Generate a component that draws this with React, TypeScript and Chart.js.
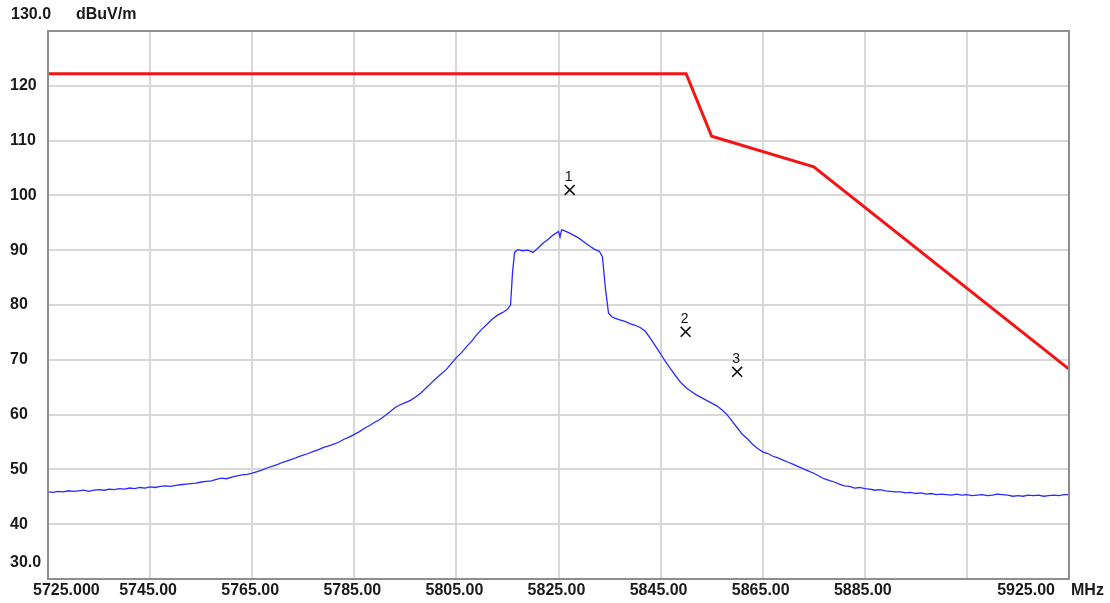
import React, { useEffect, useRef } from "react";
import { Chart, registerables } from "chart.js";

Chart.register(...registerables);

// Measured trace (MHz, dBuV/m)
const traceFreq = [
  5725, 5726, 5727, 5728, 5729, 5730, 5731, 5732, 5733, 5734, 5735, 5736, 5737, 5738, 5739, 5740,
  5741, 5742, 5743, 5744, 5745, 5746, 5747, 5748, 5749, 5750, 5751, 5752, 5753, 5754, 5755, 5756,
  5757, 5758, 5759, 5760, 5761, 5762, 5763, 5764, 5765, 5766, 5767, 5768, 5769, 5770, 5771, 5772,
  5773, 5774, 5775, 5776, 5777, 5778, 5779, 5780, 5781, 5782, 5783, 5784, 5785, 5786, 5787, 5788,
  5789, 5790, 5791, 5792, 5793, 5794, 5795, 5796, 5797, 5798, 5799, 5800, 5801, 5802, 5803, 5804,
  5805, 5806, 5807, 5808, 5809, 5810, 5811, 5812, 5813, 5814, 5815, 5815.6, 5816.0, 5816.4, 5817,
  5818, 5819, 5820, 5821, 5822, 5823, 5824, 5825, 5825.3, 5825.6, 5826, 5827, 5828, 5829, 5830,
  5831, 5832, 5833, 5833.6, 5834.2, 5834.8, 5835.5, 5836, 5837, 5838, 5839, 5840, 5841, 5842,
  5843, 5844, 5845, 5846, 5847, 5848, 5849, 5850, 5851, 5852, 5853, 5854, 5855, 5856, 5857, 5858,
  5859, 5860, 5861, 5862, 5863, 5864, 5865, 5866, 5867, 5868, 5869, 5870, 5871, 5872, 5873, 5874,
  5875, 5876, 5877, 5878, 5879, 5880, 5881, 5882, 5883, 5884, 5885, 5886, 5887, 5888, 5889, 5890,
  5891, 5892, 5893, 5894, 5895, 5896, 5897, 5898, 5899, 5900, 5901, 5902, 5903, 5904, 5905, 5906,
  5907, 5908, 5909, 5910, 5911, 5912, 5913, 5914, 5915, 5916, 5917, 5918, 5919, 5920, 5921, 5922,
  5923, 5924, 5925,
];
const traceLevel = [
  45.9, 45.8, 46.0, 45.9, 46.1, 46.0, 46.1, 46.2, 46.0, 46.2, 46.3, 46.2, 46.4, 46.3, 46.5, 46.4,
  46.6, 46.5, 46.7, 46.6, 46.8, 46.7, 46.9, 47.0, 46.9, 47.1, 47.2, 47.3, 47.4, 47.5, 47.7, 47.8,
  47.9, 48.2, 48.4, 48.3, 48.6, 48.8, 49.0, 49.1, 49.3, 49.6, 49.9, 50.3, 50.6, 50.9, 51.3, 51.6,
  51.9, 52.3, 52.6, 52.9, 53.3, 53.6, 54.0, 54.3, 54.6, 55.0, 55.5, 55.9, 56.4, 56.9, 57.5, 58.0,
  58.6, 59.1, 59.8, 60.5, 61.3, 61.8, 62.2, 62.6, 63.2, 63.9, 64.8, 65.7, 66.6, 67.4, 68.2, 69.3,
  70.4, 71.3, 72.4, 73.4, 74.6, 75.6, 76.5, 77.4, 78.1, 78.6, 79.2, 80.0, 86.0, 89.6, 90.1,
  89.9, 90.0, 89.6, 90.4, 91.3, 92.0, 92.8, 93.4, 92.4, 93.7, 93.6, 93.2, 92.7, 92.2, 91.5,
  90.8, 90.2, 89.8, 88.8, 83.0, 78.5, 77.8, 77.6, 77.3, 77.0, 76.6, 76.3, 75.9, 75.2,
  73.9, 72.5, 71.1, 69.6, 68.3, 67.0, 65.8, 64.9, 64.2, 63.6, 63.1, 62.6, 62.1, 61.6, 60.9, 60.0,
  58.8, 57.6, 56.4, 55.6, 54.6, 53.8, 53.2, 52.9, 52.4, 52.1, 51.7, 51.3, 50.9, 50.5, 50.1, 49.7,
  49.3, 48.8, 48.3, 48.0, 47.7, 47.3, 47.0, 46.9, 46.6, 46.7, 46.5, 46.4, 46.2, 46.3, 46.1, 46.0,
  45.9, 45.9, 45.7, 45.8, 45.6, 45.7, 45.5, 45.6, 45.4, 45.5, 45.4, 45.3, 45.5, 45.3, 45.4, 45.2,
  45.3, 45.4, 45.2, 45.3, 45.5, 45.4, 45.3, 45.1, 45.2, 45.1, 45.3, 45.2, 45.3, 45.1, 45.2, 45.3,
  45.2, 45.4, 45.4,
];

// Limit line
const limitFreq = [5725, 5850, 5855, 5875, 5925];
const limitLevel = [122.2, 122.2, 110.8, 105.2, 68.3];

// Markers
const markerFreq = [5827.2, 5849.9, 5860.0];
const markerLevel = [101.0, 75.1, 67.8];
const markerLabels = ["1", "2", "3"];

// Axis labels
const yTickValues = [120, 110, 100, 90, 80, 70, 60, 50, 40];
const xTickValues = [5745, 5765, 5785, 5805, 5825, 5845, 5865, 5885];
const X_MIN = 5725;
const X_MAX = 5925;
const Y_MIN = 30;
const Y_MAX = 130;

const labelFont = 'bold 16px "Liberation Sans", Arial, sans-serif';
const textColor = "#1a1a1a";

const overlayPlugin = {
  id: "overlay",
  afterDatasetsDraw(chart: any) {
    const { ctx, chartArea, scales } = chart;
    const xs = scales.x;
    const ys = scales.y;
    ctx.save();
    // frame
    ctx.strokeStyle = "#8e8e8e";
    ctx.lineWidth = 2;
    ctx.strokeRect(chartArea.left, chartArea.top, chartArea.right - chartArea.left, chartArea.bottom - chartArea.top);

    // marker numbers
    ctx.fillStyle = "#111";
    ctx.font = '14px "Liberation Sans", Arial, sans-serif';
    ctx.textAlign = "center";
    ctx.textBaseline = "middle";
    markerFreq.forEach((f, i) => {
      ctx.fillText(markerLabels[i], xs.getPixelForValue(f) - 1, ys.getPixelForValue(markerLevel[i]) - 13);
    });

    ctx.fillStyle = textColor;
    ctx.font = labelFont;
    ctx.textBaseline = "middle";
    ctx.textAlign = "left";
    // y labels
    const labelLeft = 10;
    yTickValues.forEach((v) => {
      ctx.fillText(String(v), labelLeft, ys.getPixelForValue(v));
    });
    ctx.fillText(Y_MIN.toFixed(1), labelLeft, ys.getPixelForValue(Y_MIN) - 16);
    ctx.fillText(Y_MAX.toFixed(1), labelLeft + 1, ys.getPixelForValue(Y_MAX) - 16);
    ctx.fillText("dBuV/m", 76, ys.getPixelForValue(Y_MAX) - 16);

    // x labels
    const xLabelY = chartArea.bottom + 12;
    ctx.textAlign = "center";
    xTickValues.forEach((v) => {
      ctx.fillText(v.toFixed(2), xs.getPixelForValue(v) - 2, xLabelY);
    });
    ctx.textAlign = "left";
    ctx.fillText(X_MIN.toFixed(3), xs.getPixelForValue(X_MIN) - 15, xLabelY);
    ctx.textAlign = "right";
    ctx.fillText(X_MAX.toFixed(2), xs.getPixelForValue(X_MAX) - 14, xLabelY);
    ctx.textAlign = "left";
    ctx.fillText("MHz", xs.getPixelForValue(X_MAX) + 2, xLabelY);
    ctx.restore();
  },
};

export default function App() {
  const canvasRef = useRef<HTMLCanvasElement | null>(null);

  useEffect(() => {
    document.body.style.margin = "0";
    document.body.style.background = "#ffffff";
    const canvas = canvasRef.current;
    if (!canvas) return;
    const chart = new Chart(canvas, {
      type: "scatter",
      data: {
        datasets: [
          {
            label: "Limit",
            data: limitFreq.map((f, i) => ({ x: f, y: limitLevel[i] })),
            showLine: true,
            borderColor: "#f41414",
            borderWidth: 3,
            pointRadius: 0,
            tension: 0,
          },
          {
            label: "Trace",
            data: traceFreq.map((f, i) => ({ x: f, y: traceLevel[i] })),
            showLine: true,
            borderColor: "#2a2aff",
            borderWidth: 1.3,
            pointRadius: 0,
            tension: 0,
          },
          {
            label: "Markers",
            data: markerFreq.map((f, i) => ({ x: f, y: markerLevel[i] })),
            showLine: false,
            pointStyle: "crossRot",
            pointRadius: 7,
            borderColor: "#111111",
            borderWidth: 1.6,
          },
        ],
      },
      options: {
        animation: false,
        responsive: false,
        maintainAspectRatio: false,
        layout: { padding: { left: 48, right: 41, top: 31, bottom: 24 } },
        plugins: { legend: { display: false }, tooltip: { enabled: false } },
        scales: {
          x: {
            type: "linear",
            min: X_MIN,
            max: X_MAX,
            ticks: { display: false, stepSize: 20 },
            grid: { color: "#d8d8d8", lineWidth: 2, drawTicks: false },
            border: { display: false },
          },
          y: {
            type: "linear",
            min: Y_MIN,
            max: Y_MAX,
            ticks: { display: false, stepSize: 10 },
            grid: { color: "#d8d8d8", lineWidth: 2, drawTicks: false },
            border: { display: false },
          },
        },
      },
      plugins: [overlayPlugin],
    });
    return () => chart.destroy();
  }, []);

  return (
    <div style={{ width: 1110, height: 603, background: "#fff" }}>
      <canvas ref={canvasRef} width={1110} height={603} style={{ display: "block" }} />
    </div>
  );
}
